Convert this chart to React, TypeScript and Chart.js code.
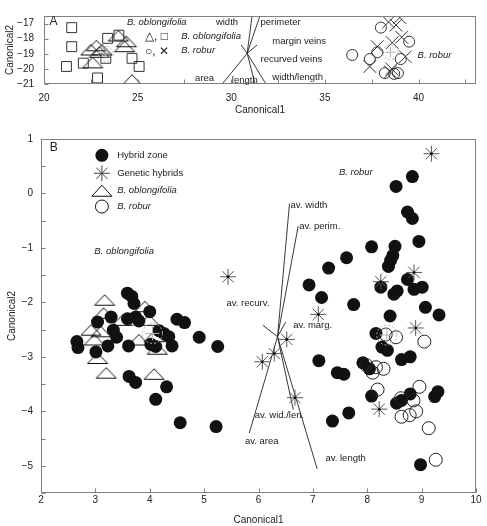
import React, { useEffect, useRef } from 'react';
import { Chart, registerables } from 'chart.js';
Chart.register(...registerables);

// ---------- Panel A data ----------
const A_SQ_X = [21.48, 21.48, 21.2, 22.1, 22.86, 23.4, 24.0, 23.3, 24.7, 25.08];
const A_SQ_Y = [-17.27, -18.53, -19.84, -19.62, -20.6, -17.98, -17.77, -19.3, -19.3, -19.84];
const A_TRI_X = [23.97, 24.4, 24.3, 22.8, 22.5, 23.1, 22.6, 24.7, 22.96];
const A_TRI_Y = [-17.82, -18.2, -18.53, -18.47, -18.75, -18.75, -19.6, -20.75, -18.9];
const A_CIR_X = [37.99, 36.46, 37.4, 37.8, 39.5, 39.05, 38.2, 38.7, 38.9];
const A_CIR_Y = [-17.27, -19.08, -19.35, -18.9, -18.2, -19.35, -20.28, -20.33, -20.28];
const A_CRS_X = [38.4, 39.0, 38.8, 38.6, 39.1, 37.8, 37.4, 38.57, 39.3, 38.5];
const A_CRS_Y = [-16.9, -16.6, -17.1, -18.26, -17.9, -18.53, -19.84, -20.0, -19.2, -20.2];
const A_CENT_X = [23.3, 38.5];
const A_CENT_Y = [-19.0, -18.9];
const A_VEC_ORIGIN = { x: 30.85, y: -18.97 };
const A_VEC_END_X = [31.11, 31.53, 31.38, 30.53, 29.52, 31.27, 31.85];
const A_VEC_END_Y = [-16.5, -16.5, -18.42, -18.42, -21, -21, -21];
const A_X_TICKS = [20, 25, 30, 35, 40];
const A_Y_TICKS = [-17, -18, -19, -20, -21];
const A_LABELS = [
  { t: 'A', x: 20.3, y: -16.86, size: 12 },
  { t: 'B. oblongifolia', x: 24.43, y: -16.89, it: true },
  { t: 'width', x: 29.18, y: -16.89 },
  { t: 'perimeter', x: 31.56, y: -16.89 },
  { t: 'margin veins', x: 32.19, y: -18.15 },
  { t: 'recurved veins', x: 31.56, y: -19.35 },
  { t: 'area', x: 28.07, y: -20.6 },
  { t: 'length', x: 30.03, y: -20.77 },
  { t: 'width/length', x: 32.19, y: -20.55 },
  { t: '\u25B3, \u25A1', x: 25.4, y: -17.9, size: 12 },
  { t: 'B. oblongifolia', x: 27.33, y: -17.87, it: true },
  { t: '\u25CB, \u2715', x: 25.4, y: -18.83, size: 12 },
  { t: 'B. robur', x: 27.33, y: -18.8, it: true },
  { t: 'B. robur', x: 39.95, y: -19.13, it: true },
];

// ---------- Panel B data ----------
const B_HYB_X = [3.59, 3.67, 3.71, 3.29, 3.04, 3.59, 3.74, 3.8, 4.0, 3.33, 3.39, 2.66, 2.68, 3.23, 3.01, 3.61, 4.02, 4.11, 4.17, 4.26, 4.35, 4.41, 4.5, 4.64, 4.91, 5.25, 3.62, 3.74, 4.31, 4.11, 4.56, 5.22,
  8.83, 8.53, 8.74, 8.83, 8.95, 8.08, 8.51, 8.47, 8.43, 8.39, 7.62, 8.74, 8.86, 9.01, 8.25, 8.49, 8.55, 7.75, 9.07, 7.29, 6.93, 7.16, 7.11, 7.45, 7.57, 7.36, 7.66, 8.42, 9.32, 8.16, 8.27, 8.37, 8.63, 8.79, 7.92, 8.04, 8.08, 8.54, 8.63, 8.79, 9.24, 9.3, 8.98];
const B_HYB_Y = [-1.83, -1.89, -2.02, -2.27, -2.36, -2.3, -2.27, -2.34, -2.17, -2.51, -2.64, -2.72, -2.83, -2.8, -2.91, -2.8, -2.77, -2.81, -2.52, -2.57, -2.63, -2.8, -2.31, -2.37, -2.64, -2.81, -3.36, -3.47, -3.55, -3.78, -4.21, -4.28,
  0.31, 0.13, -0.34, -0.46, -0.88, -0.98, -0.97, -1.14, -1.23, -1.34, -1.18, -1.58, -1.76, -1.72, -1.72, -1.85, -1.79, -2.04, -2.09, -1.37, -1.68, -1.91, -3.07, -3.29, -3.32, -4.18, -4.03, -2.25, -2.23, -2.57, -2.82, -2.88, -3.05, -3.0, -3.11, -3.22, -3.72, -3.85, -3.8, -3.68, -3.73, -3.64, -4.98];
const B_GEN_X = [5.44, 7.1, 6.52, 6.29, 6.07, 6.67, 9.18, 8.86, 8.25, 8.89, 8.22];
const B_GEN_Y = [-1.53, -2.22, -2.68, -2.94, -3.09, -3.75, 0.73, -1.45, -1.62, -2.47, -3.96];
const B_OBL_X = [3.17, 3.15, 2.92, 2.98, 3.1, 3.04, 3.2, 4.08, 3.8, 4.14, 3.5, 3.91, 3.99, 4.08];
const B_OBL_Y = [-1.96, -2.2, -2.51, -2.69, -2.54, -3.03, -3.3, -3.32, -2.69, -2.86, -2.33, -2.08, -2.33, -2.63];
const B_ROB_X = [8.34, 8.53, 9.05, 7.98, 8.16, 8.3, 8.1, 8.19, 8.96, 8.62, 8.85, 8.63, 8.78, 8.9, 9.13, 9.26];
const B_ROB_Y = [-2.59, -2.64, -2.72, -3.15, -3.19, -3.22, -3.29, -3.6, -3.55, -3.76, -3.8, -4.1, -4.07, -4.0, -4.31, -4.89];
const B_CENT_X = [4.05, 8.36];
const B_CENT_Y = [-2.57, -2.6];
const B_VEC_ORIGIN = { x: 6.35, y: -2.63 };
const B_VEC_END_X = [6.57, 6.73, 6.08, 6.5, 6.64, 5.83, 7.08];
const B_VEC_END_Y = [-0.19, -0.6, -2.42, -2.36, -3.97, -4.4, -5.06];
const B_X_TICKS = [2, 3, 4, 5, 6, 7, 8, 9, 10];
const B_Y_TICKS = [1, 0, -1, -2, -3, -4, -5];
const B_LABELS = [
  { t: 'B', x: 2.16, y: 0.84, size: 12 },
  { t: 'Hybrid zone', x: 3.4, y: 0.7 },
  { t: 'Genetic hybrids', x: 3.4, y: 0.37 },
  { t: 'B. oblongifolia', x: 3.4, y: 0.05, it: true },
  { t: 'B. robur', x: 3.4, y: -0.24, it: true },
  { t: 'B. oblongifolia', x: 2.98, y: -1.06, it: true },
  { t: 'B. robur', x: 7.48, y: 0.38, it: true },
  { t: 'av. width', x: 6.59, y: -0.22 },
  { t: 'av. perim.', x: 6.75, y: -0.6 },
  { t: 'av. recurv.', x: 5.41, y: -2.01 },
  { t: 'av. marg.', x: 6.64, y: -2.42 },
  { t: 'av. wid./len.', x: 5.93, y: -4.08 },
  { t: 'av. area', x: 5.75, y: -4.56 },
  { t: 'av. length', x: 7.23, y: -4.87 },
];
const B_LEGEND_X = 3.12;
const B_LEGEND_Y = [0.7, 0.37, 0.05, -0.24];

const FONT = '"Liberation Sans", Arial, Helvetica, sans-serif';
const TXT = '#222';
const FRAME = '#808080';

const pts = (xs: number[], ys: number[]) => xs.map((x, i) => ({ x, y: ys[i] }));
const fmt = (v: number) => String(v).replace('-', '\u2212');

function makeTri(w: number, h: number) {
  const c = document.createElement('canvas');
  c.width = w + 2;
  c.height = h + 2;
  const g = c.getContext('2d')!;
  g.strokeStyle = '#111';
  g.lineWidth = 1;
  g.beginPath();
  g.moveTo(1, h + 0.5);
  g.lineTo(1 + w / 2, 1);
  g.lineTo(w + 1, h + 0.5);
  g.closePath();
  g.stroke();
  return c;
}

const decoPlugin = {
  id: 'deco',
  afterDatasetsDraw(chart: any, _a: any, o: any) {
    const { ctx, chartArea: ca } = chart;
    const xs = chart.scales.x;
    const ys = chart.scales.y;
    ctx.save();
    // centroids
    ctx.strokeStyle = '#b5b5b5';
    ctx.lineWidth = 1;
    (o.centX as number[]).forEach((cx, i) => {
      const px = xs.getPixelForValue(cx);
      const py = ys.getPixelForValue(o.centY[i]);
      ctx.setLineDash([2, 2]);
      ctx.beginPath();
      ctx.arc(px, py, o.centR, 0, Math.PI * 2);
      ctx.stroke();
      ctx.setLineDash([]);
      ctx.beginPath();
      ctx.moveTo(px - o.centR * 0.7, py);
      ctx.lineTo(px + o.centR * 0.7, py);
      ctx.moveTo(px, py - o.centR * 0.7);
      ctx.lineTo(px, py + o.centR * 0.7);
      ctx.stroke();
    });
    // frame
    ctx.strokeStyle = FRAME;
    ctx.lineWidth = 1;
    const L = Math.round(ca.left) + 0.5, R = Math.round(ca.right) - 0.5;
    const T = Math.round(ca.top) + 0.5, B = Math.round(ca.bottom) - 0.5;
    ctx.strokeRect(L, T, R - L, B - T);
    // ticks
    ctx.beginPath();
    for (let v = o.xMinorStart; v <= xs.max + 1e-9; v += o.xMinor) {
      const px = Math.round(xs.getPixelForValue(v)) + 0.5;
      ctx.moveTo(px, B);
      ctx.lineTo(px, B - 4);
    }
    for (let v = o.yMinorStart; v <= ys.max + 1e-9; v += o.yMinor) {
      const py = Math.round(ys.getPixelForValue(v)) + 0.5;
      ctx.moveTo(L, py);
      ctx.lineTo(L + 4, py);
    }
    ctx.stroke();
    // legend symbols
    if (o.legend) {
      const lx = xs.getPixelForValue(o.legend.x);
      const ly = o.legend.y.map((v: number) => ys.getPixelForValue(v));
      ctx.fillStyle = '#111';
      ctx.beginPath();
      ctx.arc(lx, ly[0], 6.5, 0, Math.PI * 2);
      ctx.fill();
      ctx.strokeStyle = '#444';
      ctx.beginPath();
      for (let k = 0; k < 4; k++) {
        const a = (k * Math.PI) / 4;
        ctx.moveTo(lx - 8 * Math.cos(a), ly[1] - 8 * Math.sin(a));
        ctx.lineTo(lx + 8 * Math.cos(a), ly[1] + 8 * Math.sin(a));
      }
      ctx.stroke();
      ctx.strokeStyle = '#111';
      ctx.beginPath();
      ctx.moveTo(lx - 10, ly[2] + 5.5);
      ctx.lineTo(lx, ly[2] - 5.5);
      ctx.lineTo(lx + 10, ly[2] + 5.5);
      ctx.closePath();
      ctx.stroke();
      ctx.beginPath();
      ctx.arc(lx, ly[3], 6.5, 0, Math.PI * 2);
      ctx.stroke();
    }
    // labels
    ctx.fillStyle = TXT;
    ctx.textBaseline = 'middle';
    ctx.textAlign = 'left';
    for (const l of o.labels) {
      ctx.font = `${l.it ? 'italic ' : ''}${l.size || 9.5}px ${FONT}`;
      ctx.fillText(l.t, xs.getPixelForValue(l.x), ys.getPixelForValue(l.y));
    }
    ctx.restore();
  },
};

function axes(cfg: any) {
  return {
    x: {
      type: 'linear',
      min: cfg.xMin,
      max: cfg.xMax,
      afterBuildTicks: (s: any) => { s.ticks = cfg.xTicks.map((v: number) => ({ value: v })); },
      afterFit: (s: any) => { s.height = cfg.xH; },
      grid: { display: false, drawTicks: false },
      border: { display: false },
      ticks: { padding: cfg.xPad, color: TXT, font: { family: FONT, size: 10 }, maxRotation: 0, callback: (v: number) => fmt(v) },
      title: { display: true, text: 'Canonical1', color: TXT, font: { family: FONT, size: 10 }, padding: { top: 0, bottom: cfg.xTitlePad } },
    },
    y: {
      type: 'linear',
      min: cfg.yMin,
      max: cfg.yMax,
      afterBuildTicks: (s: any) => { s.ticks = cfg.yTicks.map((v: number) => ({ value: v })); },
      afterFit: (s: any) => { s.width = cfg.yW; },
      grid: { display: false, drawTicks: false },
      border: { display: false },
      ticks: { padding: cfg.yPad, color: TXT, font: { family: FONT, size: 10 }, callback: (v: number) => fmt(v) },
      title: { display: true, text: 'Canonical2', color: TXT, font: { family: FONT, size: 10 }, padding: { top: cfg.yTitlePad, bottom: 0 } },
    },
  };
}

const vecSets = (o: { x: number; y: number }, ex: number[], ey: number[]) =>
  ex.map((x, i) => ({
    type: 'line',
    data: [o, { x, y: ey[i] }],
    showLine: true,
    pointRadius: 0,
    borderColor: '#222',
    borderWidth: 0.9,
    fill: false,
    order: 4,
  }));

export default function App() {
  const refA = useRef<HTMLCanvasElement>(null);
  const refB = useRef<HTMLCanvasElement>(null);
  useEffect(() => {
    const tri = makeTri(20, 11);
    const common = {
      animation: false,
      responsive: false,
      maintainAspectRatio: false,
      devicePixelRatio: 1,
      events: [],
    };
    const chartA = new Chart(refA.current!, {
      type: 'scatter',
      data: {
        datasets: [
          { data: pts(A_TRI_X, A_TRI_Y), pointStyle: tri, pointRadius: 10, order: 6 },
          { data: pts(A_SQ_X, A_SQ_Y), pointStyle: 'rect', pointRadius: 7, pointBackgroundColor: 'rgba(0,0,0,0)', pointBorderColor: '#333', pointBorderWidth: 1, order: 5 },
          ...vecSets(A_VEC_ORIGIN, A_VEC_END_X, A_VEC_END_Y),
          { data: pts(A_CIR_X, A_CIR_Y), pointStyle: 'circle', pointRadius: 5.5, pointBackgroundColor: 'rgba(0,0,0,0)', pointBorderColor: '#333', pointBorderWidth: 1, order: 3 },
          { data: pts(A_CRS_X, A_CRS_Y), pointStyle: 'crossRot', pointRadius: 9, pointBorderColor: '#333', pointBorderWidth: 1, order: 2 },
        ] as any,
      },
      options: {
        ...common,
        layout: { padding: { top: 1, right: 6, left: 0, bottom: 0 } },
        plugins: {
          legend: { display: false },
          tooltip: { enabled: false },
          deco: {
            centX: A_CENT_X, centY: A_CENT_Y, centR: 7.5,
            xMinorStart: 20, xMinor: 2.5, yMinorStart: -21, yMinor: 1,
            labels: A_LABELS,
          },
        },
        scales: axes({ xMin: 20, xMax: 43.07, yMin: -21, yMax: -16.5, xTicks: A_X_TICKS, yTicks: A_Y_TICKS, xH: 33, yW: 44, xPad: 8, yPad: 10, xTitlePad: 1, yTitlePad: 4 }),
      } as any,
      plugins: [decoPlugin],
    });
    const chartB = new Chart(refB.current!, {
      type: 'scatter',
      data: {
        datasets: [
          { data: pts(B_OBL_X, B_OBL_Y), pointStyle: tri, pointRadius: 10, order: 6 },
          ...vecSets(B_VEC_ORIGIN, B_VEC_END_X, B_VEC_END_Y),
          { data: pts(B_HYB_X, B_HYB_Y), pointStyle: 'circle', pointRadius: 6.5, pointBackgroundColor: '#111', pointBorderColor: '#111', pointBorderWidth: 0, order: 3 },
          { data: pts(B_ROB_X, B_ROB_Y), pointStyle: 'circle', pointRadius: 6.5, pointBackgroundColor: 'rgba(0,0,0,0)', pointBorderColor: '#222', pointBorderWidth: 1, order: 2 },
          { data: pts(B_GEN_X, B_GEN_Y), pointStyle: 'star', pointRadius: 8, pointBorderColor: '#555', pointBorderWidth: 1, order: 1 },
          { data: pts(B_GEN_X, B_GEN_Y), pointStyle: 'circle', pointRadius: 1.3, pointBackgroundColor: '#000', pointBorderWidth: 0, order: 0 },
        ] as any,
      },
      options: {
        ...common,
        layout: { padding: { top: 12, right: 7, left: 0, bottom: 0 } },
        plugins: {
          legend: { display: false },
          tooltip: { enabled: false },
          deco: {
            centX: B_CENT_X, centY: B_CENT_Y, centR: 10,
            xMinorStart: 2, xMinor: 1, yMinorStart: -5.5, yMinor: 0.5,
            labels: B_LABELS,
            legend: { x: B_LEGEND_X, y: B_LEGEND_Y },
          },
        },
        scales: axes({ xMin: 2, xMax: 10, yMin: -5.5, yMax: 1, xTicks: B_X_TICKS, yTicks: B_Y_TICKS, xH: 33, yW: 41, xPad: 1, yPad: 8, xTitlePad: 0, yTitlePad: 6 }),
      } as any,
      plugins: [decoPlugin],
    });
    return () => {
      chartA.destroy();
      chartB.destroy();
    };
  }, []);
  return (
    <div style={{ position: 'absolute', left: 0, top: 0, width: 487, height: 526, background: '#fff' }}>
      <canvas ref={refA} width={487} height={117} style={{ position: 'absolute', left: 0, top: 0, width: 487, height: 117 }} />
      <canvas ref={refB} width={487} height={401} style={{ position: 'absolute', left: 0, top: 125, width: 487, height: 401 }} />
    </div>
  );
}
